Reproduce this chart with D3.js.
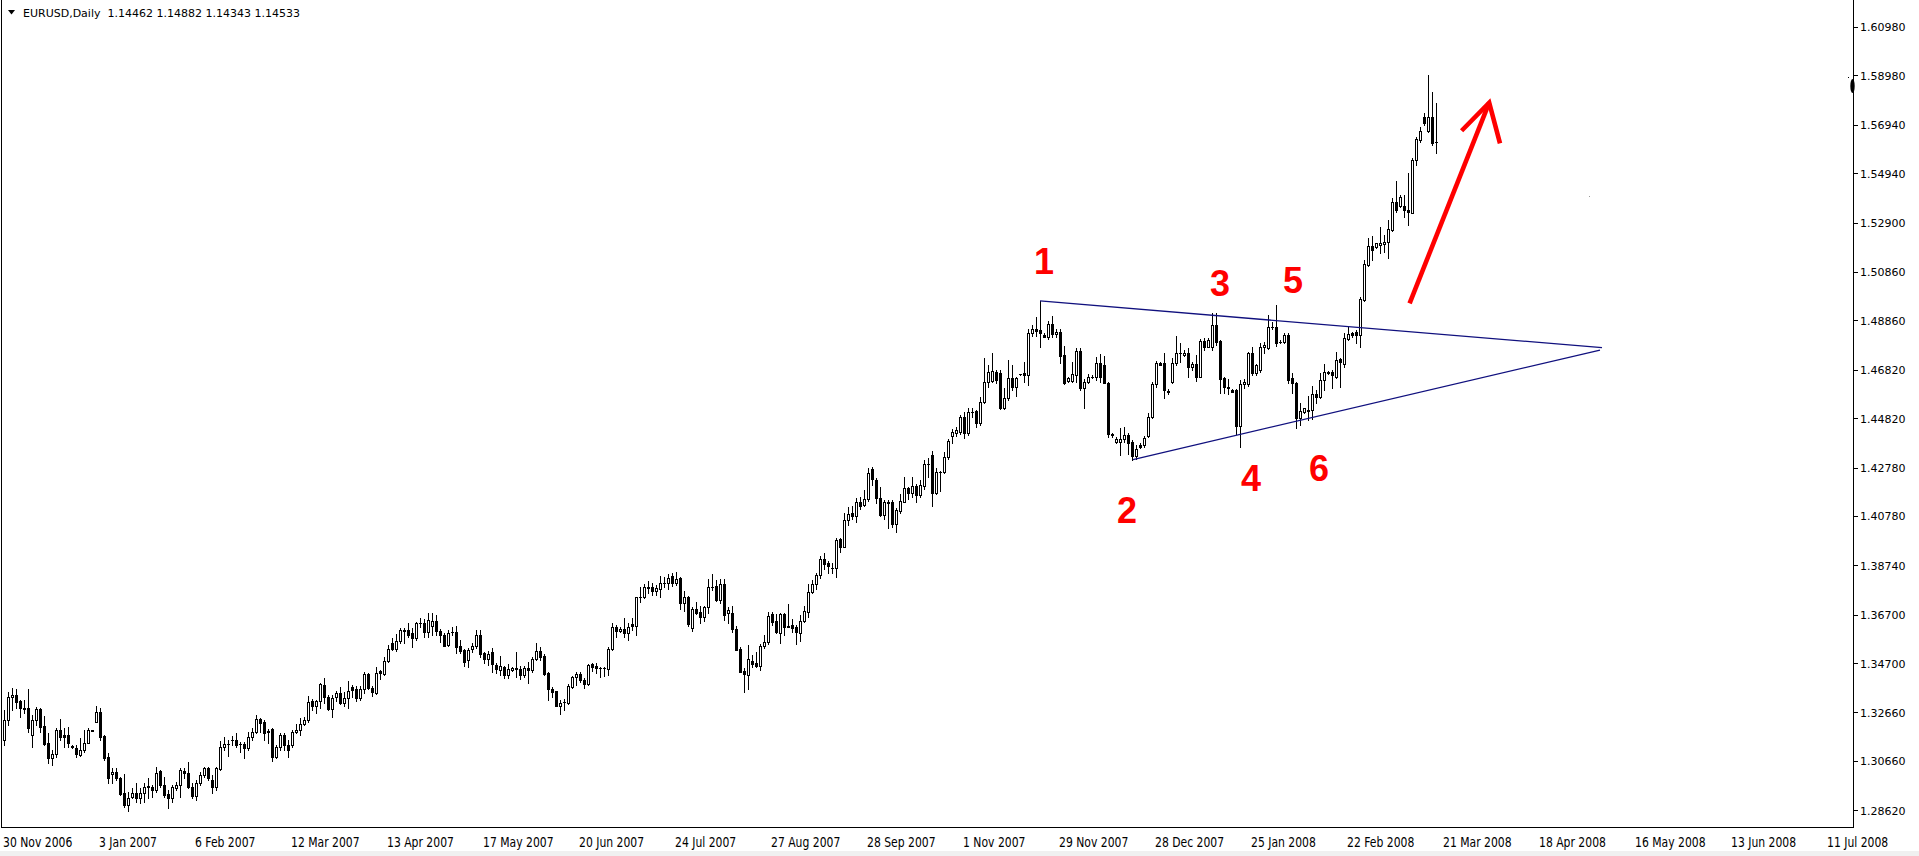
<!DOCTYPE html>
<html><head><meta charset="utf-8">
<script src="https://cdn.jsdelivr.net/npm/d3@7"></script>
<style>
html,body{margin:0;padding:0;background:#fff;overflow:hidden}
svg{display:block}
</style></head><body>
<svg id="c" width="1919" height="856"></svg>
<script>
// ---- DATA (EURUSD daily, one entry per bar) ----
const opens = [
1.3152,1.3235,1.3329,1.3338,1.3314,1.3283,1.3283,1.3173,1.3235,1.3282,1.3210,1.3139,1.3077,1.3093,1.3194,1.3173,1.3173,1.3126,1.3118,1.3091,
1.3111,1.3142,1.3193,1.3228,1.3270,1.3169,1.3081,1.3011,1.3019,1.2997,1.2932,1.2884,1.2918,1.2932,1.2912,1.2932,1.2957,1.2957,1.2946,1.3025,
1.2967,1.2930,1.2912,1.2953,1.2967,1.3026,1.3018,1.2960,1.2921,1.2976,1.3008,1.3037,1.2987,1.2960,1.3033,1.3125,1.3136,1.3151,1.3152,1.3136,
1.3135,1.3118,1.3164,1.3187,1.3238,1.3228,1.3188,1.3197,1.3084,1.3125,1.3173,1.3132,1.3132,1.3187,1.3194,1.3219,1.3234,1.3314,1.3294,1.3314,
1.3380,1.3331,1.3280,1.3329,1.3345,1.3307,1.3325,1.3373,1.3364,1.3325,1.3362,1.3424,1.3369,1.3348,1.3436,1.3424,1.3479,1.3552,1.3527,1.3561,
1.3606,1.3607,1.3593,1.3572,1.3637,1.3637,1.3597,1.3625,1.3644,1.3604,1.3586,1.3545,1.3598,1.3600,1.3541,1.3524,1.3483,1.3530,1.3541,1.3586,
1.3510,1.3488,1.3517,1.3462,1.3442,1.3455,1.3421,1.3442,1.3451,1.3447,1.3421,1.3451,1.3442,1.3487,1.3520,1.3499,1.3428,1.3364,1.3355,1.3294,
1.3310,1.3307,1.3373,1.3411,1.3425,1.3400,1.3384,1.3465,1.3458,1.3451,1.3449,1.3444,1.3528,1.3618,1.3603,1.3611,1.3593,1.3632,1.3623,1.3742,
1.3742,1.3783,1.3783,1.3769,1.3775,1.3800,1.3800,1.3830,1.3802,1.3822,1.3717,1.3742,1.3614,1.3692,1.3682,1.3662,1.3700,1.3785,1.3789,1.3731,
1.3797,1.3676,1.3678,1.3610,1.3527,1.3437,1.3421,1.3479,1.3472,1.3459,1.3541,1.3559,1.3673,1.3644,1.3596,1.3673,1.3622,1.3627,1.3618,1.3596,
1.3644,1.3682,1.3762,1.3797,1.3834,1.3900,1.3885,1.3862,1.3861,1.3983,1.3951,1.4061,1.4091,1.4079,1.4134,1.4123,1.4148,1.4270,1.4226,1.4153,
1.4082,1.4134,1.4134,1.4043,1.4100,1.4137,1.4192,1.4171,1.4202,1.4164,1.4202,1.4291,1.4330,1.4174,1.4260,1.4261,1.4320,1.4410,1.4422,1.4426,
1.4485,1.4422,1.4508,1.4511,1.4463,1.4550,1.4630,1.4637,1.4674,1.4670,1.4522,1.4564,1.4646,1.4609,1.4664,1.4667,1.4660,1.4835,1.4852,1.4846,
1.4827,1.4816,1.4869,1.4829,1.4839,1.4743,1.4635,1.4635,1.4660,1.4761,1.4605,1.4633,1.4652,1.4653,1.4708,1.4701,1.4628,1.4416,1.4385,1.4385,
1.4394,1.4412,1.4385,1.4326,1.4371,1.4371,1.4408,1.4485,1.4623,1.4711,1.4711,1.4594,1.4633,1.4708,1.4750,1.4743,1.4750,1.4692,1.4706,1.4653,
1.4801,1.4777,1.4777,1.4867,1.4801,1.4646,1.4612,1.4598,1.4598,1.4451,1.4622,1.4622,1.4750,1.4667,1.4681,1.4777,1.4770,1.4860,1.4860,1.4796,
1.4798,1.4825,1.4646,1.4629,1.4481,1.4509,1.4513,1.4515,1.4582,1.4570,1.4639,1.4674,1.4674,1.4653,1.4725,1.4706,1.4808,1.4835,1.4839,1.4825,
1.4970,1.5115,1.5193,1.5187,1.5197,1.5201,1.5211,1.5259,1.5376,1.5358,1.5358,1.5342,1.5331,1.5548,1.5631,1.5724,1.5669,1.5724,1.5622];
const highs = [
1.3276,1.3352,1.3366,1.3362,1.3318,1.3318,1.3362,1.3256,1.3290,1.3283,1.3252,1.3180,1.3111,1.3201,1.3238,1.3201,1.3208,1.3132,1.3132,1.3159,
1.3194,1.3201,1.3194,1.3293,1.3283,1.3173,1.3098,1.3036,1.3036,1.3001,1.3012,1.2939,1.2953,1.2974,1.2953,1.2974,1.2994,1.2967,1.3040,1.3029,
1.3001,1.2946,1.2967,1.2980,1.3036,1.3036,1.3063,1.2974,1.2987,1.3022,1.3042,1.3042,1.3008,1.3042,1.3150,1.3166,1.3152,1.3169,1.3183,1.3146,
1.3146,1.3187,1.3201,1.3256,1.3242,1.3235,1.3198,1.3201,1.3132,1.3180,1.3183,1.3152,1.3194,1.3219,1.3242,1.3249,1.3333,1.3320,1.3318,1.3387,
1.3407,1.3338,1.3338,1.3356,1.3370,1.3352,1.3396,1.3380,1.3375,1.3375,1.3435,1.3428,1.3375,1.3453,1.3442,1.3497,1.3545,1.3572,1.3590,1.3614,
1.3614,1.3637,1.3614,1.3641,1.3655,1.3651,1.3678,1.3678,1.3669,1.3610,1.3593,1.3607,1.3621,1.3623,1.3566,1.3527,1.3531,1.3552,1.3607,1.3607,
1.3517,1.3521,1.3531,1.3472,1.3499,1.3458,1.3466,1.3455,1.3517,1.3458,1.3458,1.3476,1.3497,1.3552,1.3538,1.3508,1.3435,1.3370,1.3356,1.3318,
1.3320,1.3382,1.3417,1.3435,1.3435,1.3407,1.3466,1.3469,1.3469,1.3455,1.3455,1.3535,1.3634,1.3627,1.3621,1.3655,1.3634,1.3655,1.3745,1.3786,
1.3797,1.3810,1.3802,1.3793,1.3830,1.3827,1.3838,1.3841,1.3846,1.3824,1.3769,1.3747,1.3703,1.3724,1.3706,1.3706,1.3816,1.3838,1.3813,1.3816,
1.3816,1.3703,1.3706,1.3623,1.3535,1.3448,1.3545,1.3503,1.3517,1.3549,1.3586,1.3682,1.3682,1.3673,1.3678,1.3678,1.3714,1.3651,1.3627,1.3669,
1.3707,1.3797,1.3813,1.3844,1.3912,1.3924,1.3893,1.3882,1.3985,1.3985,1.4091,1.4116,1.4119,1.4151,1.4155,1.4185,1.4277,1.4281,1.4236,1.4199,
1.4144,1.4144,1.4144,1.4109,1.4168,1.4240,1.4199,1.4237,1.4210,1.4226,1.4309,1.4316,1.4346,1.4275,1.4265,1.4341,1.4394,1.4436,1.4444,1.4495,
1.4508,1.4522,1.4522,1.4515,1.4571,1.4729,1.4701,1.4750,1.4681,1.4681,1.4605,1.4722,1.4701,1.4653,1.4666,1.4715,1.4849,1.4867,1.4898,1.4966,
1.4832,1.4885,1.4904,1.4849,1.4849,1.4780,1.4653,1.4715,1.4770,1.4770,1.4642,1.4664,1.4660,1.4736,1.4747,1.4739,1.4633,1.4420,1.4405,1.4440,
1.4447,1.4422,1.4392,1.4371,1.4378,1.4408,1.4505,1.4633,1.4719,1.4715,1.4750,1.4601,1.4729,1.4821,1.4791,1.4763,1.4770,1.4715,1.4743,1.4808,
1.4812,1.4812,1.4915,1.4918,1.4805,1.4653,1.4642,1.4601,1.4601,1.4640,1.4644,1.4756,1.4777,1.4706,1.4791,1.4798,1.4908,1.4880,1.4949,1.4805,
1.4832,1.4832,1.4667,1.4633,1.4546,1.4522,1.4573,1.4615,1.4598,1.4667,1.4706,1.4678,1.4681,1.4757,1.4729,1.4835,1.4860,1.4839,1.4846,1.4981,
1.5135,1.5225,1.5234,1.5207,1.5270,1.5238,1.5300,1.5390,1.5463,1.5404,1.5404,1.5493,1.5555,1.5642,1.5686,1.5741,1.5899,1.5830,1.5785];
const lows = [
1.3132,1.3214,1.3276,1.3283,1.3249,1.3263,1.3187,1.3125,1.3214,1.3187,1.3132,1.3056,1.3049,1.3084,1.3152,1.3125,1.3125,1.3118,1.3084,1.3086,
1.3104,1.3139,1.3189,1.3228,1.3152,1.3070,1.2976,1.2974,1.2987,1.2925,1.2877,1.2861,1.2912,1.2898,1.2891,1.2898,1.2912,1.2918,1.2939,1.2960,
1.2918,1.2870,1.2898,1.2946,1.2918,1.2994,1.2953,1.2912,1.2905,1.2967,1.3001,1.2987,1.2935,1.2946,1.3029,1.3111,1.3086,1.3132,1.3125,1.3104,
1.3077,1.3111,1.3152,1.3180,1.3187,1.3152,1.3139,1.3067,1.3077,1.3111,1.3111,1.3081,1.3125,1.3180,1.3173,1.3214,1.3228,1.3276,1.3265,1.3283,
1.3307,1.3276,1.3249,1.3315,1.3301,1.3293,1.3283,1.3329,1.3315,1.3318,1.3348,1.3362,1.3336,1.3342,1.3403,1.3421,1.3476,1.3524,1.3521,1.3552,
1.3554,1.3579,1.3535,1.3566,1.3621,1.3579,1.3579,1.3586,1.3586,1.3559,1.3541,1.3541,1.3586,1.3510,1.3510,1.3458,1.3455,1.3517,1.3531,1.3497,
1.3469,1.3462,1.3435,1.3431,1.3421,1.3407,1.3407,1.3437,1.3414,1.3403,1.3414,1.3387,1.3435,1.3483,1.3483,1.3421,1.3318,1.3329,1.3294,1.3260,
1.3276,1.3301,1.3366,1.3380,1.3393,1.3366,1.3380,1.3437,1.3428,1.3411,1.3417,1.3421,1.3524,1.3579,1.3600,1.3577,1.3566,1.3607,1.3586,1.3724,
1.3738,1.3758,1.3752,1.3752,1.3745,1.3783,1.3775,1.3789,1.3793,1.3692,1.3687,1.3623,1.3604,1.3673,1.3634,1.3645,1.3678,1.3772,1.3728,1.3717,
1.3648,1.3637,1.3600,1.3524,1.3435,1.3352,1.3362,1.3455,1.3452,1.3442,1.3531,1.3549,1.3627,1.3593,1.3555,1.3586,1.3618,1.3600,1.3549,1.3563,
1.3641,1.3659,1.3758,1.3775,1.3820,1.3857,1.3841,1.3844,1.3824,1.3930,1.3951,1.4039,1.4064,1.4054,1.4105,1.4120,1.4141,1.4206,1.4133,1.4078,
1.4064,1.4029,1.4031,1.4010,1.4088,1.4134,1.4147,1.4158,1.4137,1.4158,1.4188,1.4240,1.4120,1.4167,1.4182,1.4257,1.4312,1.4378,1.4408,1.4416,
1.4398,1.4412,1.4488,1.4447,1.4454,1.4543,1.4612,1.4633,1.4628,1.4518,1.4518,1.4557,1.4598,1.4575,1.4662,1.4633,1.4619,1.4821,1.4821,1.4777,
1.4816,1.4808,1.4818,1.4816,1.4708,1.4623,1.4633,1.4633,1.4633,1.4598,1.4522,1.4628,1.4646,1.4640,1.4633,1.4626,1.4405,1.4405,1.4378,1.4330,
1.4385,1.4334,1.4309,1.4312,1.4360,1.4364,1.4403,1.4481,1.4612,1.4700,1.4564,1.4582,1.4628,1.4701,1.4715,1.4739,1.4653,1.4681,1.4637,1.4651,
1.4763,1.4774,1.4763,1.4784,1.4585,1.4587,1.4582,1.4589,1.4416,1.4361,1.4605,1.4615,1.4660,1.4660,1.4672,1.4750,1.4766,1.4849,1.4780,1.4791,
1.4791,1.4626,1.4584,1.4440,1.4454,1.4502,1.4474,1.4477,1.4543,1.4564,1.4598,1.4664,1.4605,1.4646,1.4612,1.4694,1.4805,1.4818,1.4791,1.4777,
1.4967,1.5110,1.5135,1.5183,1.5163,1.5170,1.5142,1.5256,1.5335,1.5355,1.5314,1.5280,1.5328,1.5528,1.5624,1.5693,1.5665,1.5610,1.5579];
const closes = [
1.3235,1.3331,1.3338,1.3311,1.3283,1.3282,1.3201,1.3235,1.3279,1.3208,1.3136,1.3077,1.3093,1.3194,1.3166,1.3166,1.3139,1.3125,1.3095,1.3111,
1.3142,1.3194,1.3191,1.3270,1.3166,1.3077,1.2997,1.3022,1.2994,1.2930,1.2884,1.2912,1.2932,1.2912,1.2932,1.2957,1.2963,1.2946,1.3018,1.2967,
1.2925,1.2912,1.2957,1.2967,1.3029,1.3015,1.2960,1.2921,1.2976,1.3008,1.3037,1.2997,1.2960,1.3036,1.3125,1.3135,1.3136,1.3152,1.3132,1.3135,
1.3118,1.3164,1.3187,1.3239,1.3224,1.3180,1.3187,1.3084,1.3125,1.3173,1.3132,1.3111,1.3187,1.3194,1.3219,1.3235,1.3309,1.3294,1.3314,1.3382,
1.3329,1.3280,1.3325,1.3345,1.3307,1.3325,1.3355,1.3359,1.3325,1.3362,1.3424,1.3367,1.3349,1.3431,1.3428,1.3479,1.3527,1.3527,1.3561,1.3607,
1.3604,1.3586,1.3572,1.3637,1.3636,1.3597,1.3647,1.3644,1.3603,1.3586,1.3542,1.3596,1.3599,1.3538,1.3521,1.3476,1.3524,1.3541,1.3586,1.3508,
1.3488,1.3508,1.3465,1.3444,1.3458,1.3421,1.3444,1.3451,1.3444,1.3421,1.3451,1.3442,1.3487,1.3520,1.3497,1.3424,1.3362,1.3352,1.3294,1.3304,
1.3311,1.3375,1.3411,1.3425,1.3400,1.3384,1.3462,1.3453,1.3448,1.3450,1.3448,1.3528,1.3618,1.3603,1.3611,1.3593,1.3618,1.3623,1.3742,1.3743,
1.3783,1.3782,1.3769,1.3780,1.3800,1.3801,1.3820,1.3802,1.3816,1.3717,1.3742,1.3632,1.3692,1.3678,1.3662,1.3700,1.3783,1.3786,1.3731,1.3797,
1.3669,1.3690,1.3610,1.3524,1.3435,1.3424,1.3486,1.3466,1.3459,1.3541,1.3559,1.3665,1.3641,1.3600,1.3673,1.3621,1.3621,1.3614,1.3600,1.3644,
1.3687,1.3762,1.3797,1.3834,1.3900,1.3878,1.3871,1.3861,1.3979,1.3951,1.4061,1.4086,1.4079,1.4134,1.4120,1.4148,1.4254,1.4229,1.4151,1.4082,
1.4134,1.4133,1.4043,1.4102,1.4141,1.4192,1.4171,1.4202,1.4164,1.4206,1.4291,1.4292,1.4174,1.4258,1.4261,1.4320,1.4389,1.4426,1.4433,1.4485,
1.4422,1.4508,1.4509,1.4463,1.4550,1.4630,1.4674,1.4677,1.4640,1.4522,1.4564,1.4646,1.4609,1.4646,1.4665,1.4660,1.4835,1.4852,1.4843,1.4832,
1.4818,1.4869,1.4829,1.4839,1.4739,1.4626,1.4646,1.4663,1.4761,1.4605,1.4633,1.4653,1.4653,1.4708,1.4651,1.4628,1.4416,1.4412,1.4396,1.4394,
1.4412,1.4378,1.4326,1.4353,1.4364,1.4398,1.4485,1.4623,1.4711,1.4703,1.4598,1.4591,1.4711,1.4750,1.4749,1.4750,1.4692,1.4706,1.4653,1.4801,
1.4774,1.4805,1.4867,1.4798,1.4644,1.4612,1.4605,1.4591,1.4451,1.4622,1.4633,1.4750,1.4667,1.4701,1.4777,1.4784,1.4860,1.4857,1.4794,1.4798,
1.4825,1.4639,1.4626,1.4481,1.4513,1.4522,1.4515,1.4582,1.4568,1.4639,1.4674,1.4667,1.4660,1.4722,1.4715,1.4812,1.4830,1.4825,1.4825,1.4973,
1.5119,1.5193,1.5176,1.5204,1.5204,1.5211,1.5262,1.5376,1.5342,1.5397,1.5342,1.5335,1.5548,1.5634,1.5669,1.5700,1.5724,1.5620,1.5623];

const priceTicks = [1.60980,1.58980,1.56940,1.54940,1.52900,1.50860,1.48860,1.46820,1.44820,1.42780,1.40780,1.38740,1.36700,1.34700,1.32660,1.30660,1.28620];
const dateLabels = ["30 Nov 2006","3 Jan 2007","6 Feb 2007","12 Mar 2007","13 Apr 2007","17 May 2007","20 Jun 2007","24 Jul 2007","27 Aug 2007","28 Sep 2007",
  "1 Nov 2007","29 Nov 2007","28 Dec 2007","25 Jan 2008","22 Feb 2008","21 Mar 2008","18 Apr 2008","16 May 2008","13 Jun 2008","11 Jul 2008"];
const dateLabelBars = [0,24,48,72,96,120,144,168,192,216,240,264,288,312,336,360,384,408,432,456];
const titleText = "EURUSD,Daily  1.14462 1.14882 1.14343 1.14533";

// annotations (bar index, price)
const waveLabels = ["1","2","3","4","5","6"];
const waveBars   = [260, 280.75, 304, 311.75, 322.25, 328.75];
const wavePrices = [1.5077, 1.4049, 1.4987, 1.4181, 1.4999, 1.4222];
const upperLine = [[259, 1.4966], [399.5, 1.4773]];
const lowerLine = [[282.25, 1.4311], [399, 1.4763]];
const arrowShaft = [[351.4, 1.4956], [371.3, 1.5785]];
const arrowHead  = [[364.4, 1.5669], [371.3, 1.5785], [374, 1.5617]];

// ---- CHART ----
const svg = d3.select("#c");
const plotRight = 1853, plotBottom = 827;
const x = d3.scaleLinear().domain([0, 462]).range([4, 1852]);
const y = d3.scaleLinear().domain([1.2862, 1.6098]).range([810.3, 26.9]);

const bars = opens.map((o, i) => ({i, o, h: highs[i], l: lows[i], c: closes[i]}));

svg.append("defs").append("clipPath").attr("id", "clip")
  .append("rect").attr("x", 2).attr("y", 0).attr("width", plotRight - 2).attr("height", plotBottom);

const g = svg.append("g").attr("clip-path", "url(#clip)").attr("shape-rendering", "crispEdges");

g.selectAll("line.wick").data(bars).join("line").attr("class", "wick")
  .attr("x1", d => Math.round(x(d.i)) + 0.5).attr("x2", d => Math.round(x(d.i)) + 0.5)
  .attr("y1", d => Math.round(y(d.h))).attr("y2", d => Math.round(y(d.l)) + 1)
  .attr("stroke", "#000").attr("stroke-width", 1);

const bodyTop = d => Math.min(Math.round(y(d.o)), Math.round(y(d.c)));
const bodyBot = d => Math.max(Math.round(y(d.o)), Math.round(y(d.c)));

g.selectAll("line.doji").data(bars.filter(d => bodyBot(d) - bodyTop(d) < 1)).join("line").attr("class", "doji")
  .attr("x1", d => Math.round(x(d.i)) - 1).attr("x2", d => Math.round(x(d.i)) + 2)
  .attr("y1", d => bodyTop(d) + 0.5).attr("y2", d => bodyTop(d) + 0.5)
  .attr("stroke", "#000");

g.selectAll("rect.bull").data(bars.filter(d => d.c > d.o && bodyBot(d) - bodyTop(d) >= 1)).join("rect").attr("class", "bull")
  .attr("x", d => Math.round(x(d.i)) - 0.5).attr("y", d => bodyTop(d) + 0.5)
  .attr("width", 2).attr("height", d => bodyBot(d) - bodyTop(d))
  .attr("fill", "#fff").attr("stroke", "#000").attr("stroke-width", 1);

g.selectAll("rect.bear").data(bars.filter(d => d.c <= d.o && bodyBot(d) - bodyTop(d) >= 1)).join("rect").attr("class", "bear")
  .attr("x", d => Math.round(x(d.i)) - 1).attr("y", d => bodyTop(d))
  .attr("width", 3).attr("height", d => bodyBot(d) - bodyTop(d) + 1)
  .attr("fill", "#000");

// trend lines
const line = d3.line().x(d => x(d[0])).y(d => y(d[1]));
[upperLine, lowerLine].forEach(pts => {
  svg.append("path").attr("d", line(pts)).attr("fill", "none")
    .attr("stroke", "#10107e").attr("stroke-width", 1.3);
});

// red arrow
svg.append("path").attr("d", line(arrowShaft)).attr("fill", "none")
  .attr("stroke", "#ff0000").attr("stroke-width", 4.6).attr("stroke-linecap", "butt");
svg.append("path").attr("d", line(arrowHead)).attr("fill", "none")
  .attr("stroke", "#ff0000").attr("stroke-width", 4.6).attr("stroke-linecap", "butt").attr("stroke-linejoin", "miter");

// wave numbers
svg.selectAll("text.wave").data(waveLabels).join("text").attr("class", "wave")
  .attr("x", (d, k) => x(waveBars[k])).attr("y", (d, k) => y(wavePrices[k]))
  .attr("text-anchor", "middle").attr("fill", "#ff0000")
  .attr("font-family", "'Liberation Sans', Arial, sans-serif").attr("font-size", 36).attr("font-weight", "bold")
  .text(d => d);

// frame
const frame = svg.append("g").attr("shape-rendering", "crispEdges").attr("stroke", "#000");
frame.append("line").attr("x1", 1.5).attr("x2", 1.5).attr("y1", 0).attr("y2", plotBottom + 1);
frame.append("line").attr("x1", 1).attr("x2", plotRight + 1).attr("y1", plotBottom + 0.5).attr("y2", plotBottom + 0.5);
frame.append("line").attr("x1", plotRight + 0.5).attr("x2", plotRight + 0.5).attr("y1", 0).attr("y2", plotBottom + 1);

// right price axis
const yAxis = svg.append("g");
yAxis.selectAll("line").data(priceTicks).join("line")
  .attr("x1", plotRight).attr("x2", plotRight + 5)
  .attr("y1", d => Math.round(y(d)) + 0.5).attr("y2", d => Math.round(y(d)) + 0.5)
  .attr("stroke", "#000").attr("shape-rendering", "crispEdges");
yAxis.selectAll("text").data(priceTicks).join("text")
  .attr("x", plotRight + 7).attr("y", d => y(d) + 4.5)
  .attr("font-family", "'DejaVu Sans', Verdana, sans-serif").attr("font-size", 11).attr("fill", "#000")
  .text(d => d3.format(".5f")(d));

// bottom date axis (narrow, tall lettering)
svg.append("g").selectAll("text").data(dateLabels).join("text")
  .attr("transform", (d, k) => `translate(${x(dateLabelBars[k]) - 1},847) scale(0.86,1)`)
  .attr("font-family", "'Liberation Sans Narrow', 'DejaVu Sans Condensed', sans-serif").attr("font-size", 14).attr("fill", "#000")
  .text(d => d);

// bottom window strip
svg.append("rect").attr("x", 0).attr("y", 851).attr("width", 1919).attr("height", 5).attr("fill", "#f0f0f0");

// title
svg.append("path").attr("d", "M8,10 L15,10 L11.5,14.5 Z").attr("fill", "#000");
svg.append("text").attr("x", 23).attr("y", 17).attr("font-family", "'DejaVu Sans', Verdana, sans-serif")
  .attr("font-size", 11).attr("fill", "#000").style("white-space", "pre").text(titleText);

// small marks at the right edge
svg.append("ellipse").attr("cx", 1852.5).attr("cy", 86).attr("rx", 2.2).attr("ry", 7).attr("fill", "#000");
svg.append("rect").attr("x", 1848).attr("y", 77).attr("width", 1).attr("height", 1).attr("fill", "#000");
svg.append("rect").attr("x", 1589).attr("y", 196).attr("width", 1).attr("height", 1).attr("fill", "#999");
</script>
</body></html>
